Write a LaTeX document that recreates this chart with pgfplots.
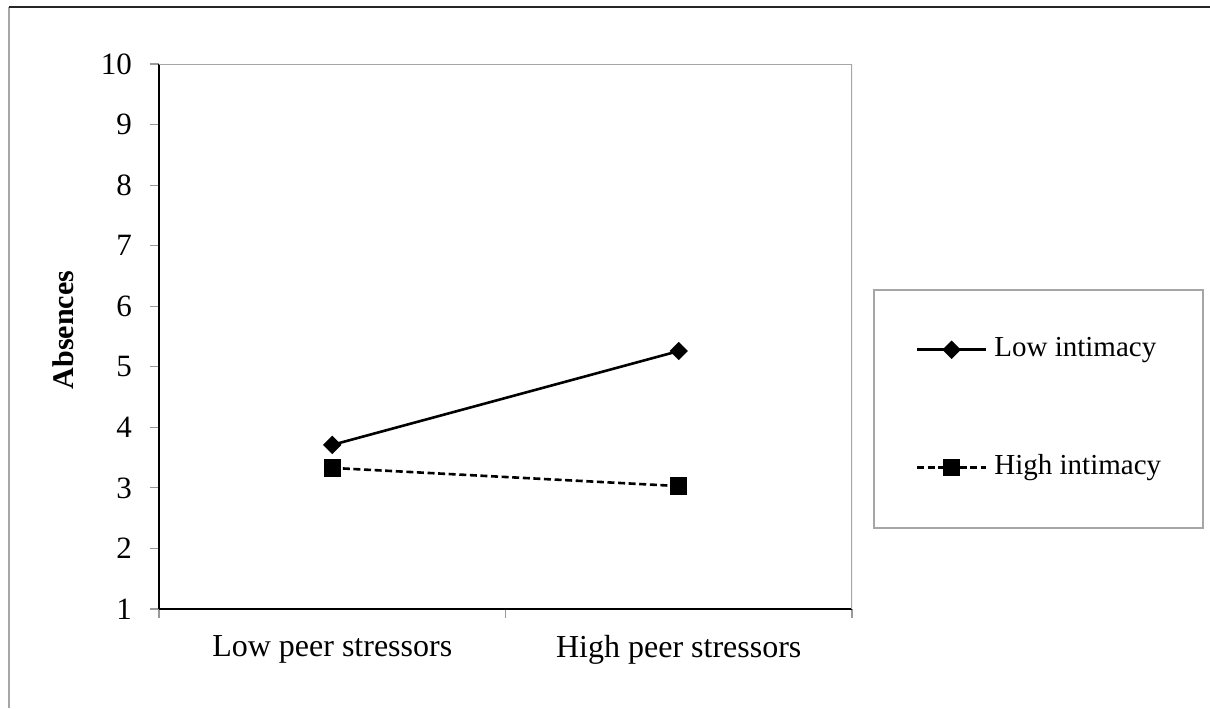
\documentclass[border=0pt]{standalone}
\usepackage{fontspec}
\setmainfont{Liberation Serif}
\usepackage{pgfplots}
\pgfplotsset{compat=1.18}

\begin{document}
\begin{tikzpicture}[x=1pt,y=1pt]
% page frame (only top and left edges show)
\path[use as bounding box] (0,0) rectangle (605,354);
\draw[gray!70, line width=1pt] (4.5,0) -- (4.5,350.5);
\draw[black!85, line width=0.7pt] (4.5,350.5) -- (605,350.5);
\begin{axis}[
  at={(79.5pt,49.5pt)}, anchor=south west,
  scale only axis, width=346.5pt, height=272.5pt,
  xmin=0.5, xmax=2.5, ymin=1, ymax=10,
  axis x line*=bottom, axis y line*=left,
  axis line style={black, line width=0.8pt},
  ytick={1,...,10},
  xtick={0.5,1.5,2.5},
  x tick label as interval,
  xticklabels={Low peer stressors, High peer stressors},
  tick align=outside, major tick length=4.5pt,
  tick style={gray!80, line width=0.6pt},
  yticklabel style={font=\fontsize{15.5}{18}\selectfont, xshift=-5.5pt},
  xticklabel style={font=\fontsize{16}{19}\selectfont, yshift=-5pt},
  /pgf/number format/assume math mode=true,
  ylabel={\textbf{Absences}},
  ylabel style={font=\fontsize{15}{18}\selectfont, at={(axis description cs:-0.1385,0.512)}, anchor=center},
  legend image code/.code={\draw[mark repeat=2,mark phase=2] plot coordinates {(0pt,0pt) (17.25pt,0pt) (34.5pt,0pt)};},
  legend cell align=left,
  legend style={at={(1.0303,0.5872)}, anchor=north west, draw=gray!70, line width=0.8pt,
    fill=white, font=\fontsize{14.5}{16}\selectfont, inner xsep=21pt, inner ysep=23.5pt,
    row sep=46pt, column sep=3.5pt,
    nodes={inner sep=0pt, text height=10pt, text depth=3pt}},
]
\addplot[black, line width=1.3pt, mark=square*, mark size=2.6pt, mark options={rotate=45}] coordinates {(1,3.71) (2,5.26)};
\addlegendentry{Low intimacy}
\addplot[black, line width=1.3pt, dash pattern=on 3.5pt off 1.8pt, mark=square*, mark size=3.7pt, mark options={solid}] coordinates {(1,3.33) (2,3.03)};
\addlegendentry{High intimacy}
\draw[gray!70, line width=0.8pt] (rel axis cs:0,1) -- (rel axis cs:1,1) -- (rel axis cs:1,0);
\end{axis}
\end{tikzpicture}
\end{document}
